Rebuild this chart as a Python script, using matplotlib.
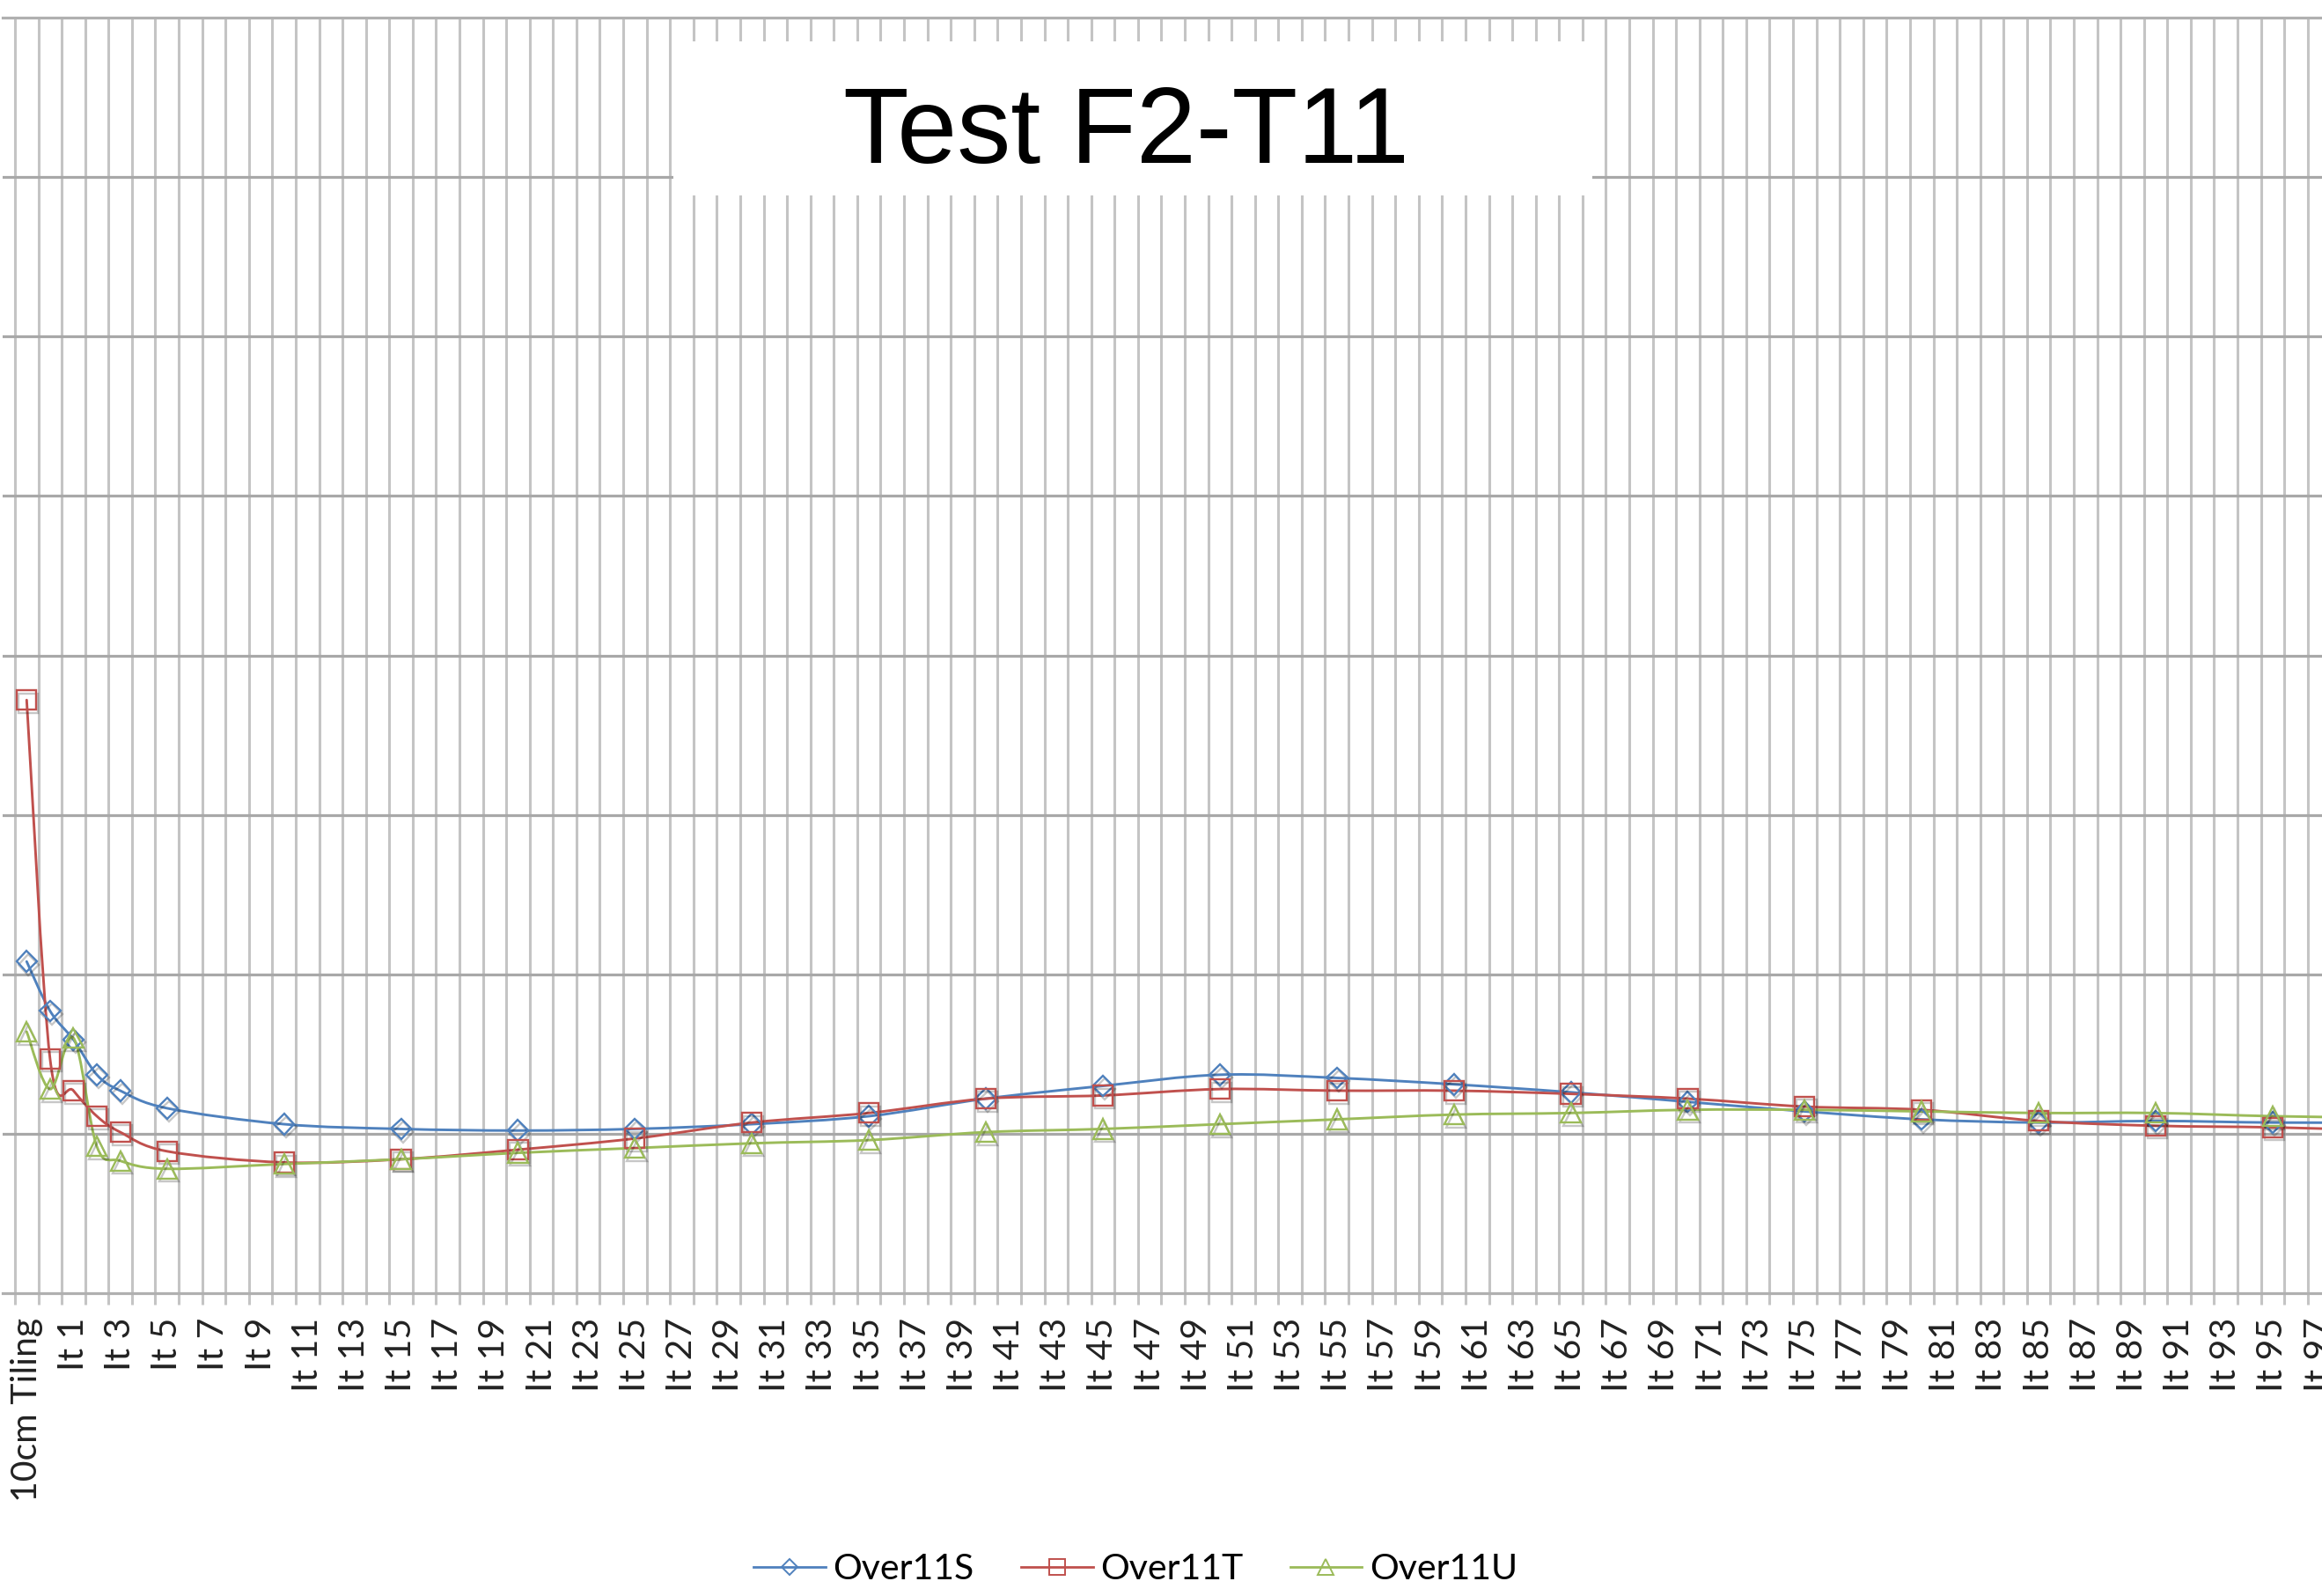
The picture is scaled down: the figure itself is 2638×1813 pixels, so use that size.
import matplotlib

matplotlib.use("Agg")
import matplotlib.pyplot as plt
import matplotlib.patheffects as pe
import numpy as np
from matplotlib.lines import Line2D
from matplotlib.patches import PathPatch, Rectangle
from matplotlib.path import Path

# categorias del eje x: "10cm Tiling" y luego It 0 .. It 100
categories = ["10cm Tiling"] + [f"It {i}" for i in range(0, 101)]

# puntos medidos (las demas celdas estan vacias y Excel une la linea)
measured = ["10cm Tiling", "It 0", "It 1", "It 2", "It 3", "It 5",
            "It 10", "It 15", "It 20", "It 25", "It 30", "It 35", "It 40",
            "It 45", "It 50", "It 55", "It 60", "It 65", "It 70", "It 75",
            "It 80", "It 85", "It 90", "It 95", "It 100"]

over11s = [2.08, 1.77, 1.59, 1.37, 1.27, 1.16, 1.06, 1.03, 1.02, 1.03, 1.06,
           1.11, 1.22, 1.30, 1.37, 1.35, 1.31, 1.26, 1.20, 1.14, 1.09, 1.07,
           1.08, 1.07, 1.07]
over11t = [3.72, 1.47, 1.27, 1.11, 1.01, 0.89, 0.82, 0.84, 0.90, 0.97, 1.07,
           1.13, 1.22, 1.24, 1.28, 1.27, 1.27, 1.25, 1.22, 1.17, 1.15, 1.08,
           1.05, 1.04, 1.02]
over11u = [1.64, 1.28, 1.60, 0.92, 0.83, 0.78, 0.81, 0.84, 0.88, 0.91, 0.94,
           0.96, 1.01, 1.03, 1.06, 1.09, 1.12, 1.13, 1.15, 1.15, 1.14, 1.13,
           1.13, 1.11, 1.10]

series = [("Over11S", over11s, "#4F81BD", "D", 12),
          ("Over11T", over11t, "#C0504D", "s", 16),
          ("Over11U", over11u, "#9BBB59", "^", 16)]

W, H = 2638, 1813


def smooth_path(xs, ys):
    # curva suavizada tipo Excel (Bezier a partir de tangentes Catmull-Rom)
    pts = np.column_stack([xs, ys]).astype(float)
    n = len(pts)
    verts = [pts[0]]
    codes = [Path.MOVETO]
    for i in range(n - 1):
        p0 = pts[i - 1] if i > 0 else pts[i]
        p1, p2 = pts[i], pts[i + 1]
        p3 = pts[i + 2] if i + 2 < n else pts[i + 1]
        verts += [p1 + (p2 - p0) / 6, p2 - (p3 - p1) / 6, p2]
        codes += [Path.CURVE4] * 3
    return Path(verts, codes)


fig = plt.figure(figsize=(W / 100, H / 100), dpi=100)
ax = fig.add_axes([3 / W, (H - 1469) / H, (W - 3) / W, (1469 - 20) / H])

x = np.array([categories.index(m) for m in measured])
shadow = [pe.SimpleLineShadow(offset=(1.5, -2.5), shadow_color="k", alpha=0.22),
          pe.Normal()]
handles = []
for name, vals, color, mk, ms in series:
    ax.add_patch(PathPatch(smooth_path(x, vals), facecolor="none", edgecolor=color,
                           lw=2.1, zorder=3, capstyle="round"))
    ax.plot(x, vals, ls="none", marker=mk, ms=ms, mfc="none", mec=color, mew=1.7,
            zorder=4, path_effects=shadow)
    handles.append(Line2D([], [], color=color, lw=2.0, marker=mk, ms=ms * 0.8,
                          mfc="none", mec=color, mew=1.4))

# ejes
ax.set_yticks(range(1, 8))
ax.yaxis.grid(True, color="#a8a8a8", lw=2.3, zorder=0)
ax.tick_params(axis="y", length=0, labelleft=False)

ax.set_xticks(range(0, len(categories), 2))
ax.set_xticklabels(categories[::2], rotation=90, fontsize=29.5, family="Lato",
                   color="#222222")
ax.set_xticks(np.arange(-0.5, len(categories), 1), minor=True)
ax.xaxis.grid(True, which="minor", color="#c4c4c4", lw=2.2, zorder=0)
ax.tick_params(axis="x", which="major", length=0, pad=20)
ax.tick_params(axis="x", which="minor", length=9, width=2.2, color="#c4c4c4")

# limites despues de los ticks (set_xticks amplia la vista)
ax.set_xlim(-1.027, 98.11)
ax.set_ylim(0, 8)

for s in ("left", "right"):
    ax.spines[s].set_visible(False)
for s in ("top", "bottom"):
    ax.spines[s].set_color("#b0b0b0")
    ax.spines[s].set_linewidth(2.3)
ax.set_axisbelow(True)

# titulo con fondo blanco encima de la cuadricula
fig.add_artist(Rectangle((765 / W, 1 - 222 / H), (1809 - 765) / W, (222 - 47) / H,
                         transform=fig.transFigure, facecolor="white",
                         edgecolor="none", zorder=10))
fig.text(1280 / W, 1 - 185 / H, "Test F2-T11", ha="center", va="baseline",
         fontsize=88, family="Liberation Sans", color="black", zorder=11)

fig.legend(handles, [s[0] for s in series], loc="center",
           bbox_to_anchor=(0.489, 1 - 1783 / H), ncol=3, frameon=False,
           prop={"family": "Lato", "size": 29.5}, handlelength=2.0,
           handletextpad=0.2, columnspacing=1.3)

fig.savefig("out.png", dpi=100)
